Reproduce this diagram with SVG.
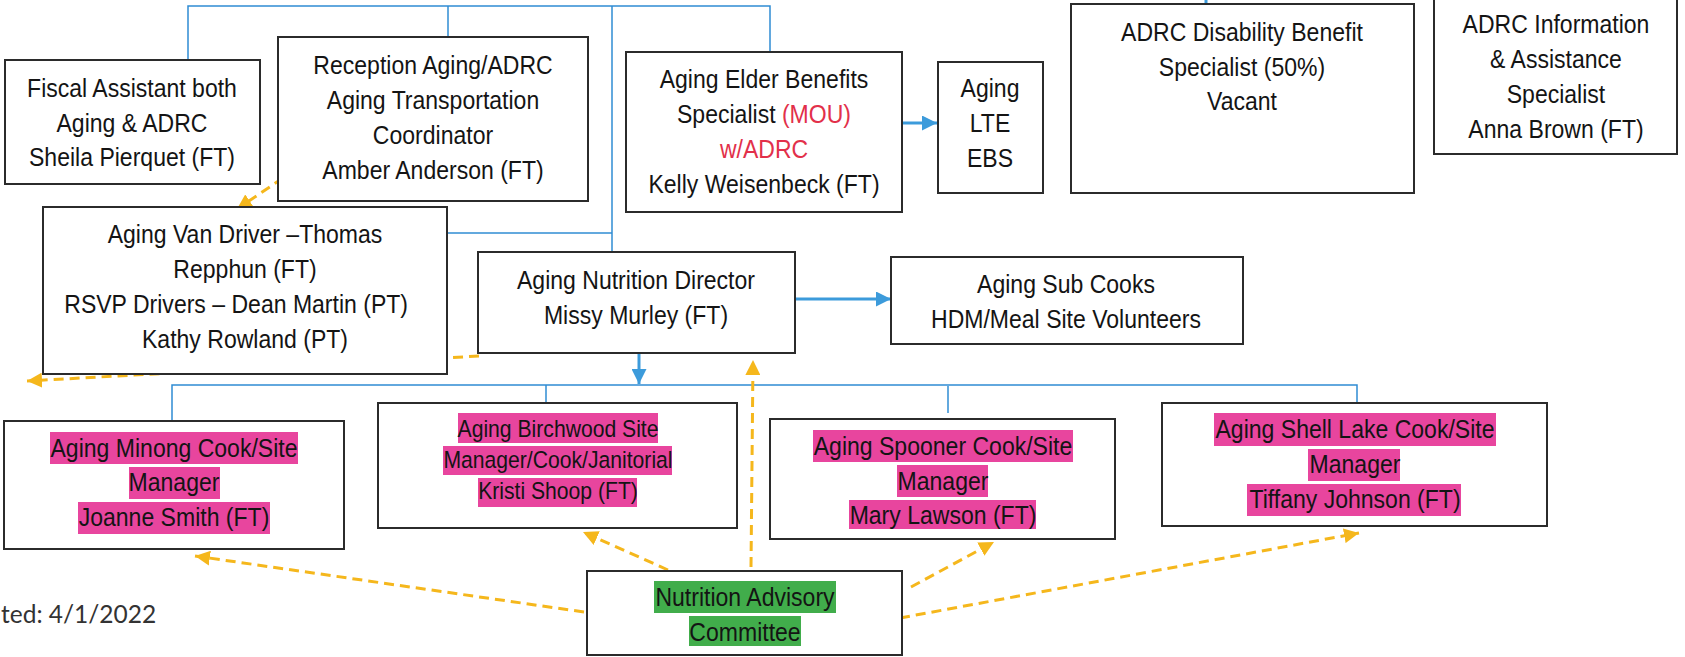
<svg xmlns="http://www.w3.org/2000/svg" width="1685" height="657" viewBox="0 0 1685 657">
<style>
.box{fill:#fff;stroke:#2b2b2b;stroke-width:2}
.t{font-family:"Liberation Sans",Arial,sans-serif;font-size:26px;fill:#141414;text-anchor:middle}
.ts{font-size:23.5px}
.red{fill:#e2304a}
.pk{fill:#e8459e}
.gr{fill:#41ad4b}
.bl{fill:none;stroke:#2f8cd3;stroke-width:1.5}
.ba{fill:none;stroke:#3c9bdb;stroke-width:3;marker-end:url(#ab)}
.ya{fill:none;stroke:#f5b71c;stroke-width:3;stroke-dasharray:10 6;marker-end:url(#ay)}
</style>
<defs>
<marker id="ab" viewBox="0 0 10 10" refX="10" refY="5" markerWidth="5" markerHeight="5" markerUnits="strokeWidth" orient="auto"><path d="M0,0 L10,5 L0,10 z" fill="#3c9bdb"/></marker>
<marker id="ay" viewBox="0 0 10 10" refX="10" refY="5" markerWidth="5" markerHeight="5" markerUnits="strokeWidth" orient="auto"><path d="M0,0 L10,5 L0,10 z" fill="#f5b71c"/></marker>
</defs>
<rect width="1685" height="657" fill="#fff"/>

<g id="connectors">
<path class="bl" d="M188,60 V6 H770 V52"/>
<path class="bl" d="M448,6 V37"/>
<path class="bl" d="M612,6 V252"/>
<path class="bl" d="M447,233 H612"/>
<path class="bl" d="M172,421 V385 H1357 V403"/>
<path class="bl" d="M546,385 V403"/>
<path class="bl" d="M948,386 V413"/>
<path d="M1206,0 V5" stroke="#3c9bdb" stroke-width="3"/>
<path class="ba" d="M902,123 H937"/>
<path class="ba" d="M795,299 H891"/>
<path class="ba" d="M639,353 V384"/>
<path class="ya" d="M283,178 L237,209"/>
<path class="ya" d="M479,356 L27,381"/>
<path class="ya" d="M751,567 L753,360"/>
<path class="ya" d="M584,612 L195,556"/>
<path class="ya" d="M668,570 L583,532"/>
<path class="ya" d="M911,587 L994,542"/>
<path class="ya" d="M900,618 L1359,533"/>
</g>

<g id="n-fiscal">
<rect class="box" x="5" y="60" width="255" height="124"/>
<g transform="translate(132 0) scale(0.886 1)">
<text class="t" x="0" y="97">Fiscal Assistant both</text>
<text class="t" x="0" y="132">Aging &amp; ADRC</text>
<text class="t" x="0" y="166">Sheila Pierquet (FT)</text>
</g>
</g>

<g id="n-reception">
<rect class="box" x="278" y="37" width="310" height="164"/>
<g transform="translate(433 0) scale(0.886 1)">
<text class="t" x="0" y="74">Reception Aging/ADRC</text>
<text class="t" x="0" y="109">Aging Transportation</text>
<text class="t" x="0" y="144">Coordinator</text>
<text class="t" x="0" y="179">Amber Anderson (FT)</text>
</g>
</g>

<g id="n-elder">
<rect class="box" x="626" y="52" width="276" height="160"/>
<g transform="translate(764 0) scale(0.886 1)">
<text class="t" x="0" y="88">Aging Elder Benefits</text>
<text class="t" x="0" y="123">Specialist <tspan class="red">(MOU)</tspan></text>
<text class="t red" x="0" y="158">w/ADRC</text>
<text class="t" x="0" y="193">Kelly Weisenbeck (FT)</text>
</g>
</g>

<g id="n-lte">
<rect class="box" x="938" y="62" width="105" height="131"/>
<g transform="translate(990 0) scale(0.886 1)">
<text class="t" x="0" y="97">Aging</text>
<text class="t" x="0" y="132">LTE</text>
<text class="t" x="0" y="167">EBS</text>
</g>
</g>

<g id="n-disability">
<rect class="box" x="1071" y="4" width="343" height="189"/>
<g transform="translate(1242 0) scale(0.886 1)">
<text class="t" x="0" y="41">ADRC Disability Benefit</text>
<text class="t" x="0" y="76">Specialist (50%)</text>
<text class="t" x="0" y="110">Vacant</text>
</g>
</g>

<g id="n-info">
<rect class="box" x="1434" y="-2" width="243" height="156"/>
<g transform="translate(1556 0) scale(0.886 1)">
<text class="t" x="0" y="33">ADRC Information</text>
<text class="t" x="0" y="68">&amp; Assistance</text>
<text class="t" x="0" y="103">Specialist</text>
<text class="t" x="0" y="138">Anna Brown (FT)</text>
</g>
</g>

<g id="n-van">
<rect class="box" x="43" y="207" width="404" height="167"/>
<g transform="translate(245 0) scale(0.886 1)">
<text class="t" x="0" y="243">Aging Van Driver –Thomas</text>
<text class="t" x="0" y="278">Repphun (FT)</text>
<text class="t" x="-10" y="313">RSVP Drivers – Dean Martin (PT)</text>
<text class="t" x="0" y="348">Kathy Rowland (PT)</text>
</g>
</g>

<g id="n-director">
<rect class="box" x="478" y="252" width="317" height="101"/>
<g transform="translate(636 0) scale(0.886 1)">
<text class="t" x="0" y="289">Aging Nutrition Director</text>
<text class="t" x="0" y="324">Missy Murley (FT)</text>
</g>
</g>

<g id="n-subcooks">
<rect class="box" x="891" y="257" width="352" height="87"/>
<g transform="translate(1066 0) scale(0.886 1)">
<text class="t" x="0" y="293">Aging Sub Cooks</text>
<text class="t" x="0" y="328">HDM/Meal Site Volunteers</text>
</g>
</g>

<g id="n-minong">
<rect class="box" x="4" y="421" width="340" height="128"/>
<rect class="pk" x="50" y="432" width="248" height="32"/>
<rect class="pk" x="129" y="467" width="91" height="32"/>
<rect class="pk" x="78" y="502" width="192" height="32"/>
<g transform="translate(174 0) scale(0.886 1)">
<text class="t" x="0" y="457">Aging Minong Cook/Site</text>
<text class="t" x="0" y="491">Manager</text>
<text class="t" x="0" y="526">Joanne Smith (FT)</text>
</g>
</g>

<g id="n-birchwood">
<rect class="box" x="378" y="403" width="359" height="125"/>
<rect class="pk" x="458" y="413" width="200" height="30"/>
<rect class="pk" x="443" y="446" width="229" height="29"/>
<rect class="pk" x="478" y="478" width="159" height="29"/>
<g transform="translate(558 0) scale(0.9 1)">
<text class="t ts" x="0" y="437">Aging Birchwood Site</text>
<text class="t ts" x="0" y="468">Manager/Cook/Janitorial</text>
<text class="t ts" x="0" y="499">Kristi Shoop (FT)</text>
</g>
</g>

<g id="n-spooner">
<rect class="box" x="770" y="419" width="345" height="120"/>
<rect class="pk" x="813" y="430" width="260" height="32"/>
<rect class="pk" x="897" y="465" width="91" height="32"/>
<rect class="pk" x="849" y="500" width="187" height="29"/>
<g transform="translate(943 0) scale(0.886 1)">
<text class="t" x="0" y="455">Aging Spooner Cook/Site</text>
<text class="t" x="0" y="490">Manager</text>
<text class="t" x="0" y="524">Mary Lawson (FT)</text>
</g>
</g>

<g id="n-shelllake">
<rect class="box" x="1162" y="403" width="385" height="123"/>
<rect class="pk" x="1214" y="413" width="282" height="33"/>
<rect class="pk" x="1308" y="449" width="92" height="32"/>
<rect class="pk" x="1247" y="484" width="214" height="32"/>
<g transform="translate(1355 0) scale(0.886 1)">
<text class="t" x="0" y="438">Aging Shell Lake Cook/Site</text>
<text class="t" x="0" y="473">Manager</text>
<text class="t" x="0" y="508">Tiffany Johnson (FT)</text>
</g>
</g>

<g id="n-advisory">
<rect class="box" x="587" y="571" width="315" height="84"/>
<rect class="gr" x="654" y="581" width="182" height="32"/>
<rect class="gr" x="689" y="616" width="112" height="30"/>
<g transform="translate(745 0) scale(0.886 1)">
<text class="t" x="0" y="606">Nutrition Advisory</text>
<text class="t" x="0" y="641">Committee</text>
</g>
</g>

<g id="footer">
<text x="1" y="623" font-family="Lato,'Open Sans',sans-serif" font-size="24.5" fill="#333">ted: 4/1/2022</text>
</g>
</svg>
